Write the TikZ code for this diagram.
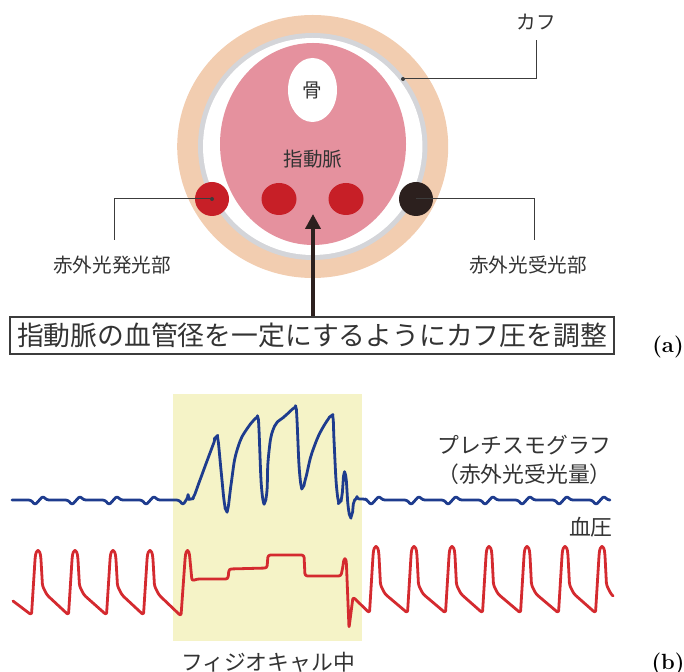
\documentclass[tikz,border=0pt]{standalone}
\usepackage{fontspec}
\newfontfamily\jp{Noto Sans CJK JP}
\usetikzlibrary{shapes.geometric,arrows.meta,positioning,calc}

\definecolor{cuffskin}{HTML}{F2CDB0}
\definecolor{ringgray}{HTML}{D4D5D9}
\definecolor{fingerpink}{HTML}{E5919E}
\definecolor{vesselred}{HTML}{C71F27}
\definecolor{sensordark}{HTML}{2C201E}
\definecolor{txtgray}{HTML}{333333}
\definecolor{linegray}{HTML}{3C3C3C}
\definecolor{calyellow}{HTML}{F5F3C7}
\definecolor{plethblue}{HTML}{1E3C8E}
\definecolor{bpred}{HTML}{D42A2F}

\begin{document}
\begin{tikzpicture}[
    x=0.5pt,y=-0.5pt,
    lbl/.style={font=\jp\fontsize{9.8}{12}\selectfont,text=txtgray,inner sep=0pt},
    lblb/.style={font=\jp\fontsize{10.9}{13}\selectfont,text=txtgray,inner sep=0pt},
    sensor/.style={circle,minimum size=17pt,inner sep=0pt},
    vessel/.style={ellipse,minimum width=17.5pt,minimum height=16pt,inner sep=0pt,fill=vesselred},
    leader/.style={draw=linegray,line width=0.5pt},
    trace/.style={line width=1.4pt,line join=round,line cap=round,rounded corners=1.2pt},
    tag/.style={font=\fontsize{11}{13}\bfseries\selectfont,inner sep=0pt}]
    \useasboundingbox (0,0) rectangle (684,672);

    % finger section with cuff
    \fill[cuffskin] (312.7,146.5) ellipse [x radius=135.5, y radius=131.5];
    \fill[ringgray] (312.7,146.5) ellipse [x radius=114.7, y radius=113.5];
    \fill[white] (312.7,146.5) ellipse [x radius=109.7, y radius=108.5];
    \fill[fingerpink] (313,144) ellipse [x radius=93, y radius=101];
    \node[ellipse,fill=white,minimum width=24.5pt,minimum height=32pt,inner sep=0pt,lbl] (bone) at (312.5,90) {骨};
    \node[lbl] (artery) at (313,159) {指動脈};

    \node[sensor,fill=vesselred] (emit) at (212,199) {};
    \node[vessel] (v1) at (279,199) {};
    \node[vessel] (v2) at (346,199) {};
    \node[sensor,fill=sensordark] (recv) at (416,199) {};

    % leaders
    \coordinate (cuffpt) at (403,79);
    \coordinate (cuffend) at (536,40);
    \coordinate (emitend) at (114,240);
    \coordinate (recvend) at (534,240);
    \node[lbl] (cufflbl) at (536,22) {カフ};
    \node[lbl] (emitlbl) at (112,265) {赤外光発光部};
    \node[lbl] (recvlbl) at (528,265) {赤外光受光部};
    \draw[leader] (cuffpt) -| (cuffend);
    \draw[leader] (emit.center) -| (emitend);
    \draw[leader] (recv.center) -| (recvend);
    \fill[linegray] (cuffpt) circle [radius=2];
    \fill[linegray] (emit.center) circle [radius=2];

    \node[draw=linegray,line width=0.6pt,minimum width=302pt,minimum height=18.5pt,inner sep=0pt,
          font=\jp\fontsize{13.4}{16}\selectfont,text=txtgray] (note) at (312,335.5)
          {指動脈の血管径を一定にするようにカフ圧を調整};
    \coordinate (tip) at (313,214);
    \draw[line width=2.4pt,draw=sensordark,-{Triangle[length=7.5pt,width=7.5pt]}] (note.north -| tip) -- (tip);
    \node[tag] (taga) at (668,347) {(a)};

    % traces
    \fill[calyellow] (173,394) rectangle (362,641);

    \draw[trace,draw=plethblue] (12,500)
      \foreach \d in {35,72,109,146} { -- (\d-4,500) -- (\d,505) -- (\d+8,496) -- (\d+11.5,500) }
      -- (179,500) -- (183,505) -- (188,497)
      -- plot[smooth,tension=0.45] coordinates {(188,497) (191,499) (194,496) (200,480) (207,461)
         (213,445) (216,437) (218,440) (221,470) (224,500) (226,510) (228,508) (231,485) (235,458)
         (241,439) (249,426) (256,418) (258,418) (259,430) (261,480) (263,500) (265,502) (267,490)
         (268,462) (271,437) (276,424) (285,416) (294,408) (296,408) (297,420) (299,465) (301,485)
         (303,487) (306,477) (311,456) (318,437) (325,424) (331,416) (333,418) (334,440) (336,480)
         (338,499) (340,502) (342,495) (344,474) (346,478) (348,505) (350,516) (352,514) (354,502)
         (357,499)}
      -- (365,499)
      \foreach \d in {371,411,448,485,522,559,596} { -- (\d-4,500) -- (\d,505) -- (\d+8,496) -- (\d+11.5,500) }
      -- (609,500);

    \draw[trace,draw=bpred] (13,601)
      \foreach \p in {38,75,113,150} { -- (\p-6.5,615) -- (\p-3,560)
        .. controls (\p-2,548) and (\p+2,548) .. (\p+3,560) -- (\p+4.5,586) -- (\p+9,595) }
      -- (181,616) -- (185,560) .. controls (186,548) and (189,548) .. (190,560)
      -- (192,581) -- (197,579) -- (228,579) -- (229,569)
      -- (267,568) -- (268,555) -- (304,555) -- (305,576) -- (341,576) -- (343,566)
      .. controls (344,557) and (346,557) .. (346.5,566)
      -- (349,628) -- (353,597)
      \foreach \p in {376,414,452,489,527,565,602} { -- (\p-6.5,613) -- (\p-3,556)
        .. controls (\p-2,544) and (\p+2,544) .. (\p+3,556) -- (\p+4.5,585) -- (\p+9,594) }
      -- (613,596);

    \node[lblb,anchor=east] (plethlbl) at (612,445) {プレチスモグラフ};
    \node[lblb,anchor=east] (plethsub) at (612,474) {（赤外光受光量）};
    \node[lblb,anchor=east] (bplbl) at (613,527) {血圧};
    \node[lblb] (callbl) at (268,662) {フィジオキャル中};
    \node[tag] (tagb) at (668,664) {(b)};
\end{tikzpicture}
\end{document}
